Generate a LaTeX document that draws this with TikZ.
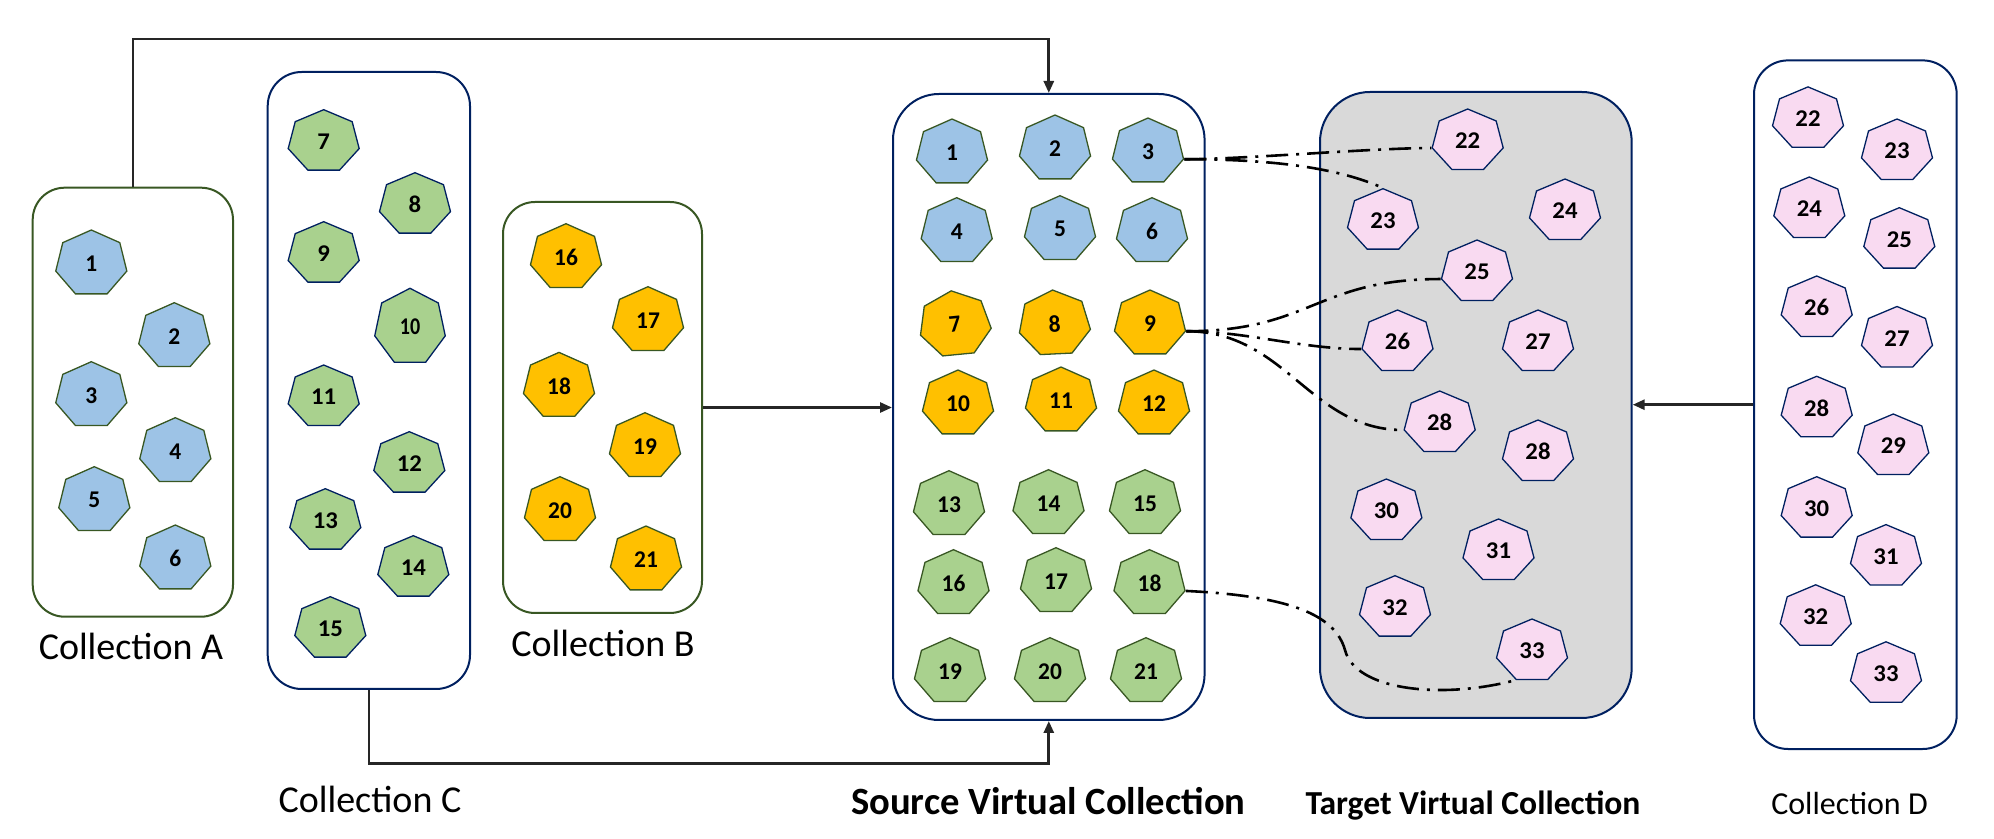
\documentclass[tikz,border=0pt]{standalone}
\usepackage{fontspec}
\setmainfont{Carlito}
\usetikzlibrary{shapes.geometric,arrows.meta,fit}
\definecolor{dgreen}{HTML}{385723}
\definecolor{navy}{HTML}{002060}
\definecolor{hblue}{HTML}{9DC3E6}
\definecolor{hgreen}{HTML}{A9D18E}
\definecolor{horange}{HTML}{FFC000}
\definecolor{hpink}{HTML}{F9DAF1}
\definecolor{tgray}{HTML}{D9D9D9}
\definecolor{lineg}{HTML}{262626}
\newcommand\hn[1]{\scalebox{0.9}[1]{#1}}
\begin{document}
\begin{tikzpicture}[x=0.5pt,y=-0.5pt,
  hbase/.style={regular polygon, regular polygon sides=7, inner sep=0pt, line width=0.65pt,
    font=\fontsize{12}{12}\selectfont\bfseries},
  hA/.style={hbase, minimum size=33.6pt, xscale=1.085},
  hC/.style={hbase, minimum size=31.8pt, xscale=1.145},
  blueA/.style={hA, fill=hblue, draw=dgreen},
  orangeA/.style={hA, fill=horange, draw=dgreen},
  greenA/.style={hA, fill=hgreen, draw=dgreen},
  greenC/.style={hC, fill=hgreen, draw=navy},
  pinkC/.style={hC, fill=hpink, draw=navy},
  boxg/.style={draw=dgreen, line width=1pt, rounded corners=16pt, inner sep=0pt},
  boxn/.style={draw=navy, line width=1pt, rounded corners=17pt, inner sep=0pt},
  conn/.style={line width=1.35pt, draw=lineg, -{Triangle[length=6pt,width=5pt]}},
  dd/.style={line width=1.3pt, draw=black, dash pattern=on 11pt off 4pt on 1.5pt off 4pt},
  lab/.style={anchor=base, font=\fontsize{19}{19}\selectfont},
]
\useasboundingbox (0,0) rectangle (1994,839);

% boxes
\node[boxg, fit={(32.7,187.7) (233,616.7)}] (A) {};
\node[boxn, fit={(267.7,72) (470,689)}] (C) {};
\node[boxg, fit={(503,202) (702,613)}] (B) {};
\node[boxn, rounded corners=23pt, fit={(893,94) (1204.6,720)}] (S) {};
\node[boxn, fill=tgray, rounded corners=25pt, fit={(1320,92) (1631.7,718)}] (T) {};
\node[boxn, fit={(1754,60.4) (1956.7,749)}] (D) {};

% Collection A
\node[blueA] (a1) at (91.3,263.6) {\hn{1}};
\node[blueA] (a2) at (174.3,336.3) {\hn{2}};
\node[blueA] (a3) at (91.3,395.3) {\hn{3}};
\node[blueA] (a4) at (175.3,451.3) {\hn{4}};
\node[blueA] (a5) at (94.3,500.3) {\hn{5}};
\node[blueA] (a6) at (175.3,558.6) {\hn{6}};

% Collection C
\node[greenC] (c7) at (323.7,141.5) {\hn{7}};
\node[greenC] (c8) at (415,204.5) {\hn{8}};
\node[greenC] (c9) at (323.7,253.5) {\hn{9}};
\node[hbase, fill=hgreen, draw=navy, minimum size=38.9pt, xscale=0.93] (c10) at (410,327.2) {\hn{10}};
\node[greenC] (c11) at (323.7,396.8) {\hn{11}};
\node[greenC] (c12) at (409.3,463.5) {\hn{12}};
\node[greenC] (c13) at (325.3,520.5) {\hn{13}};
\node[greenC] (c14) at (413.3,567.5) {\hn{14}};
\node[greenC] (c15) at (330.3,628.5) {\hn{15}};

% Collection B
\node[orangeA] (b16) at (566,257.3) {\hn{16}};
\node[orangeA] (b17) at (648,320.3) {\hn{17}};
\node[orangeA] (b18) at (559,386) {\hn{18}};
\node[orangeA] (b19) at (645,446.3) {\hn{19}};
\node[orangeA] (b20) at (560,510.3) {\hn{20}};
\node[orangeA] (b21) at (646,559.6) {\hn{21}};

% Source virtual collection
\node[blueA] (s1) at (952,152.6) {\hn{1}};
\node[blueA] (s2) at (1055,148.6) {\hn{2}};
\node[blueA] (s3) at (1148,151.6) {\hn{3}};
\node[blueA] (s4) at (956.7,231.3) {\hn{4}};
\node[blueA] (s5) at (1060,229.3) {\hn{5}};
\node[blueA] (s6) at (1152,231.3) {\hn{6}};
\node[orangeA, rotate=6] (s7) at (955,324.3) {\hn{7}};
\node[orangeA, rotate=3] (s8) at (1054.5,323.6) {\hn{8}};
\node[orangeA] (s9) at (1150,323.6) {\hn{9}};
\node[orangeA] (s10) at (958,403.6) {\hn{10}};
\node[orangeA] (s11) at (1061,400.6) {\hn{11}};
\node[orangeA] (s12) at (1154,403.6) {\hn{12}};
\node[greenA] (s13) at (949,504.3) {\hn{13}};
\node[greenA] (s14) at (1048.5,503.3) {\hn{14}};
\node[greenA] (s15) at (1145,503.3) {\hn{15}};
\node[greenA] (s16) at (953.5,583.3) {\hn{16}};
\node[greenA] (s17) at (1056,581.3) {\hn{17}};
\node[greenA] (s18) at (1149.5,583.3) {\hn{18}};
\node[greenA] (s19) at (950,671.3) {\hn{19}};
\node[greenA] (s20) at (1050,671.3) {\hn{20}};
\node[greenA] (s21) at (1146,671.3) {\hn{21}};

% Target virtual collection
\node[pinkC] (t22) at (1467.7,140.8) {\hn{22}};
\node[pinkC] (t23) at (1383,220.5) {\hn{23}};
\node[pinkC] (t24) at (1565,210.8) {\hn{24}};
\node[pinkC] (t25) at (1477,271.8) {\hn{25}};
\node[pinkC] (t26) at (1397.5,341.8) {\hn{26}};
\node[pinkC] (t27) at (1538,341.8) {\hn{27}};
\node[pinkC] (t28) at (1439.7,422.8) {\hn{28}};
\node[pinkC] (t28b) at (1538,451.8) {\hn{28}};
\node[pinkC] (t30) at (1386.4,510.8) {\hn{30}};
\node[pinkC] (t31) at (1498.5,550.8) {\hn{31}};
\node[pinkC] (t32) at (1395,607.5) {\hn{32}};
\node[pinkC] (t33) at (1532,650.8) {\hn{33}};

% Collection D
\node[pinkC] (d22) at (1808,118.7) {\hn{22}};
\node[pinkC] (d23) at (1897,150.8) {\hn{23}};
\node[pinkC] (d24) at (1809.3,208.8) {\hn{24}};
\node[pinkC] (d25) at (1899.3,239.5) {\hn{25}};
\node[pinkC] (d26) at (1816.7,307.8) {\hn{26}};
\node[pinkC] (d27) at (1897,338.3) {\hn{27}};
\node[pinkC] (d28) at (1816.7,408.1) {\hn{28}};
\node[pinkC] (d29) at (1893.3,445.8) {\hn{29}};
\node[pinkC] (d30) at (1816.7,508.5) {\hn{30}};
\node[pinkC] (d31) at (1886,556.4) {\hn{31}};
\node[pinkC] (d32) at (1815.7,616.6) {\hn{32}};
\node[pinkC] (d33) at (1886,673.6) {\hn{33}};

% labels
\node[lab] (labA) at (131,659.3) {Collection A};
\node[lab] (labB) at (603,656.7) {Collection B};
\node[lab] (labC) at (370,812.7) {Collection C};
\node[lab, font=\fontsize{19.3}{19.3}\selectfont\bfseries] (labS) at (1048.3,814.3) {Source Virtual Collection};
\node[lab, font=\fontsize{16.8}{16.8}\selectfont\bfseries] (labT) at (1473,814) {Target Virtual Collection};
\node[lab, font=\fontsize{16}{16}\selectfont] (labD) at (1849.5,814) {Collection D};

% arrows
\draw[conn] (A.north) -- ++(0,-147.7) -| (S.north);
\draw[conn] (C.south) -- ++(0,73.3) -| (S.south);
\draw[conn] (B.east) -- (B.east -| S.west);
\draw[conn] (D.west) -- (D.west -| T.east);

% mappings
\draw[dd] (s3.corner 6) .. controls +(60,0) and +(-60,0) .. (t22.corner 3);
\draw[dd] (s3.corner 6) .. controls +(90,0) and +(-45,-20) .. (t23.corner 1);
\draw[dd] (s9.corner 6) .. controls +(125,0) and +(-125,0) .. (t25.corner 3);
\draw[dd] (s9.corner 6) .. controls +(60,0) and +(-60,0) .. (t26.corner 3);
\draw[dd] (s9.corner 6) .. controls +(100,0) and +(-94,0) .. (t28.corner 3);
\draw[dd] (s18.corner 6) .. controls +(105,5) and (1335,615) .. (1345,650)
  .. controls (1355,690) and (1440,700) .. (t33.corner 4);
\end{tikzpicture}
\end{document}
